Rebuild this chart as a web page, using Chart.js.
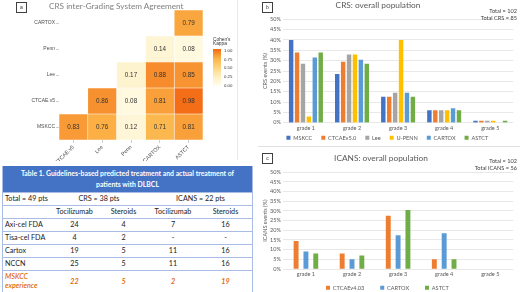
<!DOCTYPE html>
<html><head><meta charset="utf-8">
<script src="https://cdn.jsdelivr.net/npm/chart.js@4.4.1/dist/chart.umd.min.js"></script>
<style>
html,body{margin:0;padding:0;background:#fff;}
#root{position:relative;width:520px;height:292px;overflow:hidden;background:#fff;font-family:Lato,sans-serif;}
.abs{position:absolute;white-space:nowrap;}
.plab{position:absolute;width:9px;height:9px;border:1px solid #404040;font-size:5px;line-height:9px;text-align:center;color:#333;font-family:'Liberation Sans',sans-serif;}
canvas{position:absolute;}
.tc{position:absolute;font-size:7.2px;color:#222;white-space:nowrap;display:flex;align-items:center;}
</style></head>
<body><div id="root">
<canvas id="hm" width="238" height="161" style="left:0;top:0"></canvas>
<canvas id="cb" width="260" height="145" style="left:260px;top:0"></canvas>
<canvas id="cc" width="260" height="145" style="left:260px;top:147px"></canvas>
</div>
<script>
// ---------- DATA ----------
const hmCols = ['CTCAE.v5','Lee','Penn','CARTOX','ASTCT'];
const hmRows = ['CARTOX','Penn','Lee','CTCAE.v5','MSKCC'];
const kappaCARTOX = [null,null,null,null,0.79];
const kappaPenn   = [null,null,null,0.14,0.08];
const kappaLee    = [null,null,0.17,0.88,0.85];
const kappaCTCAE  = [null,0.86,0.08,0.81,0.98];
const kappaMSKCC  = [0.83,0.76,0.12,0.71,0.81];
const kappaTicks  = ['1.00','0.75','0.50','0.25','0.00'];

const grades = ['grade 1','grade 2','grade 3','grade 4','grade 5'];
const crsMSKCC  = [40,23.5,12.5,6,1];
const crsCTCAE5 = [34,29.5,12.5,6,1];
const crsLee    = [28.5,33,14.5,6,1];
const crsUPENN  = [3,33,40,6,1];
const crsCARTOX = [31.5,30.5,14.5,7,0];
const crsASTCT  = [34,28.5,12.5,6,1];
const icansCTCAE403 = [14.5,8,27.5,5,0];
const icansCARTOX   = [9,5,17.5,18.5,0];
const icansASTCT    = [8,7,30.5,5,0];
const pctTicks = [0,5,10,15,20,25,30,35,40,45,50];

const tableTitle = ['Table 1. Guidelines-based predicted treatment and actual treatment of','patients with DLBCL'];
const tableGroups = ['Total = 49 pts','CRS = 38 pts','ICANS = 22 pts'];
const tableSubHeads = ['Tocilizumab','Steroids','Tocilizumab','Steroids'];
const tableRows = ['Axi-cel FDA','Tisa-cel FDA','Cartox','NCCN','MSKCC experience'];
const crsToci     = ['24','4','19','25','22'];
const crsSteroids = ['4','2','5','5','5'];
const icansToci     = ['7','-','11','11','2'];
const icansSteroids = ['16','-','16','16','19'];

// ---------- HELPERS ----------
const root = document.getElementById('root');
function addDiv(cls, text, css){ const d=document.createElement('div'); d.className=cls; if(text!==null) d.textContent=text; Object.assign(d.style, css); root.appendChild(d); return d; }
const stops=[[0,[255,253,238]],[0.25,[254,239,192]],[0.5,[253,213,128]],[0.75,[251,178,70]],[1,[242,104,18]]];
function kcol(v){
  for(let i=1;i<stops.length;i++){
    if(v<=stops[i][0]){const a=stops[i-1],b=stops[i];const t=(v-a[0])/(b[0]-a[0]);
      const c=a[1].map((x,k)=>Math.round(x+(b[1][k]-x)*t));return `rgb(${c[0]},${c[1]},${c[2]})`;}
  }
  return 'rgb(242,104,18)';
}
Chart.defaults.font.family='Lato';

// ---------- PANEL A: heatmap ----------
const kappaRows=[kappaCARTOX,kappaPenn,kappaLee,kappaCTCAE,kappaMSKCC];
const hmDatasets = hmCols.map((c,j)=>({
  label:c,
  data: kappaRows.map(r=> r[j]==null?null:[j,j+1]),
  kv: kappaRows.map(r=> r[j]),
  backgroundColor: kappaRows.map(r=> r[j]==null?'rgba(0,0,0,0)':kcol(r[j])),
  borderColor:'rgba(255,255,255,0.55)', borderWidth:0.6, borderSkipped:false,
  grouped:false, barPercentage:1, categoryPercentage:1
}));
const cellText={id:'cellText',afterDatasetsDraw(chart){
  const ctx=chart.ctx; ctx.save(); ctx.font="6.3px 'Liberation Sans'"; ctx.fillStyle='#333'; ctx.textAlign='center'; ctx.textBaseline='middle';
  chart.data.datasets.forEach((ds,i)=>{chart.getDatasetMeta(i).data.forEach((el,k)=>{ if(ds.kv[k]==null) return;
    ctx.fillText(ds.kv[k].toFixed(2),(el.x+el.base)/2,el.y+0.5);});});
  ctx.restore();}};
new Chart(document.getElementById('hm'),{
  type:'bar', data:{labels:hmRows, datasets:hmDatasets},
  options:{indexAxis:'y', responsive:false, animation:false, devicePixelRatio:1,
    layout:{padding:{top:10,right:35,left:0,bottom:0}},
    plugins:{legend:{display:false},tooltip:{enabled:false}},
    scales:{
      x:{type:'linear',min:0,max:5,
        afterBuildTicks:s=>{s.ticks=[0.5,1.5,2.5,3.5,4.5].map(v=>({value:v}));},
        afterFit:s=>{s.height=21;},
        ticks:{autoSkip:false,minRotation:45,maxRotation:45,padding:1,font:{family:'Liberation Sans',size:5.4},color:'#4d4d4d',callback:v=>hmCols[Math.floor(v)]},
        grid:{drawOnChartArea:false,tickLength:3,color:'#cfcfcf'}, border:{display:false}},
      y:{afterFit:s=>{s.width=59;},
        ticks:{padding:1,font:{family:'Liberation Sans',size:5},color:'#4d4d4d'},
        grid:{drawOnChartArea:false,tickLength:3,color:'#cfcfcf',offset:false}, border:{display:false}}
    }},
  plugins:[cellText]
});
addDiv('abs','CRS inter-Grading System Agreement',{left:'49px',top:'1px',fontSize:'8.2px',color:'#808080',fontFamily:'Lato'});
addDiv('plab','a',{left:'16px',top:'2px'});
addDiv('abs',"Cohen's",{left:'213px',top:'36.5px',fontSize:'4.8px',color:'#333',fontFamily:'Liberation Sans'});
addDiv('abs',"Kappa",{left:'213px',top:'40.5px',fontSize:'4.8px',color:'#333',fontFamily:'Liberation Sans'});
addDiv('abs','',{left:'213px',top:'49px',width:'8px',height:'37px',background:'linear-gradient(to top,'+stops.map(s=>`rgb(${s[1].join(',')}) ${s[0]*100}%`).join(',')+')'});
kappaTicks.forEach((t,i)=>addDiv('abs',t,{left:'224px',top:(48+i*8.7)+'px',fontSize:'4.3px',color:'#333',fontFamily:'Liberation Sans'}));
addDiv('abs','',{left:'237px',top:'0px',width:'1px',height:'160px',background:'#e8e8e8'});

// ---------- TABLE ----------
const colX=[2,50,99,148,198,253];
const rowY=[166,192,205,218,231,244,257,270,292];
const lineC='#a9bde4';
addDiv('abs','',{left:'2px',top:'166px',width:'251px',height:'26px',background:'#4472C4'});
tableTitle.forEach((t,i)=>addDiv('abs',t,{left:'2px',width:'251px',top:(169+i*11)+'px',textAlign:'center',color:'#fff',fontWeight:'bold',fontSize:'6.85px',lineHeight:'9px'}));
for(let i=1;i<rowY.length;i++) addDiv('abs','',{left:'2px',top:rowY[i]+'px',width:'251px',height:'1px',background:lineC});
addDiv('abs','',{left:'2px',top:'166px',width:'1px',height:'126px',background:lineC});
addDiv('abs','',{left:'252px',top:'166px',width:'1px',height:'126px',background:lineC});
function cell(text,x0,x1,y0,y1,align,css){
  return addDiv('tc',text,Object.assign({left:x0+'px',width:(x1-x0)+'px',top:y0+'px',height:(y1-y0)+'px',justifyContent:align},css||{}));
}
cell(tableGroups[0],colX[0]+3,colX[1],rowY[1],rowY[2],'flex-start');
cell(tableGroups[1],colX[1],colX[3],rowY[1],rowY[2],'center');
cell(tableGroups[2],colX[3],colX[5],rowY[1],rowY[2],'center');
tableSubHeads.forEach((t,i)=>cell(t,colX[i+1],colX[i+2],rowY[2],rowY[3],'center'));
tableRows.forEach((r,k)=>{
  const y0=rowY[3+k], y1=rowY[4+k]; const last=k===tableRows.length-1;
  const st= last?{color:'#E36C0A',fontStyle:'italic',fontWeight:'bold'}:{};
  const lab=cell(last?'':r,colX[0]+3,colX[1],y0,y1,'flex-start',last?{color:'#E36C0A',fontStyle:'italic',fontWeight:'600',lineHeight:'9px',whiteSpace:'normal'}:{});
  if(last){lab.innerHTML='MSKCC<br>experience';}
  [crsToci,crsSteroids,icansToci,icansSteroids].forEach((arr,i)=>cell(arr[k],colX[i+1],colX[i+2],y0,y1,'center',st));
});

// ---------- PANELS B & C ----------
const tc='#595959';
function legendFix(h, cy, fs, bh, pad){ return {id:'legendFix',
  beforeUpdate(chart){ const lg=chart.legend; if(lg && !lg._fx){ const of=lg.fit; lg.fit=function(){ of.call(this); this.height=h; }; lg._fx=true; } },
  afterLayout(chart){ const lg=chart.legend; if(!lg) return; const ih=Math.max(fs,bh); lg.top=cy-ih/2-pad; lg.bottom=chart.height+20; }
};}
function barOpts(title,legendPad,catP,barP,ytitle){
  return {responsive:false, animation:false, devicePixelRatio:1,
    datasets:{bar:{categoryPercentage:catP,barPercentage:barP}},
    layout:{padding:{top:title,right:6.7,left:1.5,bottom:0}},
    plugins:{legend:{position:'bottom',labels:{boxWidth:4,boxHeight:4,padding:legendPad,font:{size:5.6,family:'Lato'},color:tc}},tooltip:{enabled:false}},
    scales:{
      x:{grid:{display:false,drawTicks:false},border:{display:false},ticks:{font:{size:5.5,family:'Lato'},color:tc,padding:2}},
      y:{min:0,max:50,afterBuildTicks:s=>{s.ticks=pctTicks.map(v=>({value:v}));},
        ticks:{font:{size:5.5,family:'Lato'},color:tc,padding:2,autoSkip:false,callback:function(v){return v+'%';}},
        grid:{color:'#D9D9D9',lineWidth:0.6,drawTicks:false},border:{display:false},
        title:{display:true,text:ytitle,font:{size:5.5,family:'Lato'},color:tc,padding:0}}
    }};
}
new Chart(document.getElementById('cb'),{type:'bar',data:{labels:grades,datasets:[
  {label:'MSKCC',data:crsMSKCC,backgroundColor:'#4472C4'},
  {label:'CTCAEv5.0',data:crsCTCAE5,backgroundColor:'#ED7D31'},
  {label:'Lee',data:crsLee,backgroundColor:'#A5A5A5'},
  {label:'U-PENN',data:crsUPENN,backgroundColor:'#FFC000'},
  {label:'CARTOX',data:crsCARTOX,backgroundColor:'#5B9BD5'},
  {label:'ASTCT',data:crsASTCT,backgroundColor:'#70AD47'}]},
  options:barOpts(19.3,9,0.77,0.75,'CRS events (%)'),
  plugins:[legendFix(11.7,137.7,5.6,4,9)]});
addDiv('plab','b',{left:'262px',top:'2px'});
addDiv('abs','CRS: overall population',{left:'298px',width:'160px',textAlign:'center',top:'0px',fontSize:'8.3px',color:'#595959'});
addDiv('abs','Total = 102',{right:'3px',top:'6.5px',fontSize:'5.6px',color:'#404040'});
addDiv('abs','Total CRS = 85',{right:'3px',top:'13.5px',fontSize:'5.6px',color:'#404040'});

new Chart(document.getElementById('cc'),{type:'bar',data:{labels:grades,datasets:[
  {label:'CTCAEv4.03',data:icansCTCAE403,backgroundColor:'#ED7D31'},
  {label:'CARTOX',data:icansCARTOX,backgroundColor:'#5B9BD5'},
  {label:'ASTCT',data:icansASTCT,backgroundColor:'#70AD47'}]},
  options:barOpts(25.3,16,0.64,0.5,'ICANS events (%)'),
  plugins:[legendFix(12.4,140.7,5.6,4,16)]});
addDiv('abs','',{left:'258px',top:'146px',width:'262px',height:'1px',background:'#e0e0e0'});
addDiv('plab','c',{left:'262px',top:'153px'});
addDiv('abs','ICANS: overall population',{left:'301px',width:'160px',textAlign:'center',top:'152.5px',fontSize:'8.3px',color:'#595959'});
addDiv('abs','Total = 102',{right:'3px',top:'157px',fontSize:'5.6px',color:'#404040'});
addDiv('abs','Total ICANS = 56',{right:'3px',top:'164px',fontSize:'5.6px',color:'#404040'});
</script>
</body></html>
